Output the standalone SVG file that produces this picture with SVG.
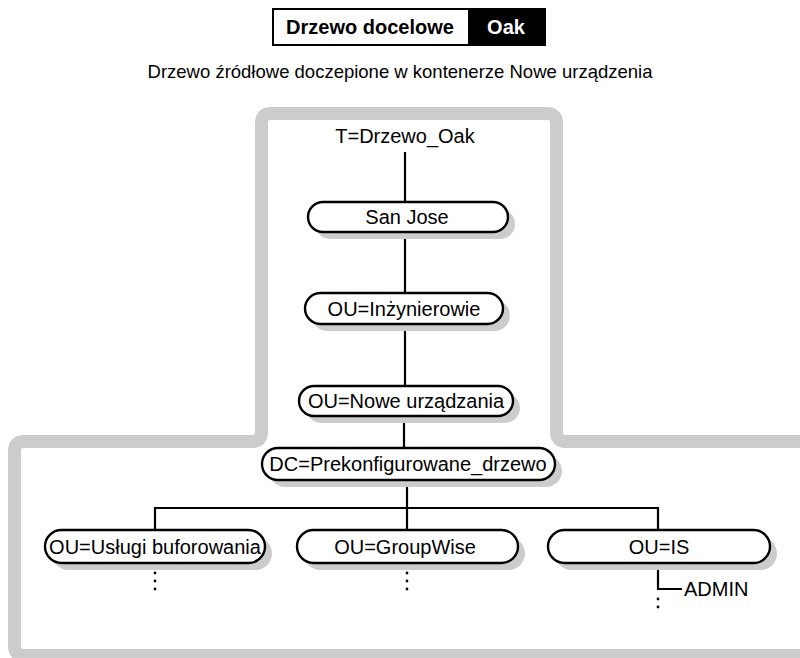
<svg xmlns="http://www.w3.org/2000/svg" width="800" height="658" viewBox="0 0 800 658">
<style>
  .frame { fill: none; stroke: #cccccc; stroke-width: 13; stroke-linejoin: round; }
  .shadow { fill: #cccccc; }
  .node { fill: #ffffff; stroke: #000000; stroke-width: 2.4; }
  .lbl { font-family: "Liberation Sans", Arial, sans-serif; font-size: 20px; fill: #000; text-anchor: middle; }
  .conn { stroke: #000; stroke-width: 2.2; fill: none; }
  .dot { fill: #000; }
  .title { font-family: "Liberation Sans", Arial, sans-serif; font-size: 20px; font-weight: bold; }
  .sub { font-family: "Liberation Sans", Arial, sans-serif; font-size: 18.5px; fill: #000; text-anchor: middle; }
</style>
<rect x="0" y="0" width="800" height="658" fill="#ffffff"/>

<g id="title">
  <rect x="273" y="9" width="272" height="36" fill="#ffffff" stroke="#000" stroke-width="2"/>
  <rect x="468" y="9" width="77" height="36" fill="#000"/>
  <text class="title" x="370" y="34" text-anchor="middle" fill="#000">Drzewo docelowe</text>
  <text class="title" x="506" y="34" text-anchor="middle" fill="#fff">Oak</text>
</g>
<g id="subtitle">
  <text class="sub" x="400" y="78">Drzewo źródłowe doczepione w kontenerze Nowe urządzenia</text>
</g>

<g id="frame">
  <path class="frame" d="M 806 441.5 H 566 Q 556.5 441.5 556.5 432 V 123 Q 556.5 113.5 547 113.5 H 271 Q 261.5 113.5 261.5 123 V 432 Q 261.5 441.5 252 441.5 H 24 Q 14.5 441.5 14.5 451 V 646 Q 14.5 655.5 24 655.5 H 806"/>
</g>

<g id="connectors">
  <line class="conn" x1="405" y1="152" x2="405" y2="202"/>
  <line class="conn" x1="405" y1="232" x2="405" y2="293"/>
  <line class="conn" x1="405" y1="325" x2="405" y2="386"/>
  <line class="conn" x1="404" y1="415" x2="404" y2="448"/>
  <line class="conn" x1="407" y1="480" x2="407" y2="508"/>
  <polyline class="conn" points="155,530 155,508 658,508 658,530"/>
  <line class="conn" x1="407" y1="508" x2="407" y2="530"/>
  <polyline class="conn" points="658,563 658,589 682,589"/>
  <circle class="dot" cx="155" cy="573" r="1.4"/>
  <circle class="dot" cx="155" cy="581" r="1.4"/>
  <circle class="dot" cx="155" cy="589" r="1.4"/>
  <circle class="dot" cx="407" cy="573" r="1.4"/>
  <circle class="dot" cx="407" cy="581" r="1.4"/>
  <circle class="dot" cx="407" cy="589" r="1.4"/>
  <circle class="dot" cx="658" cy="599" r="1.4"/>
  <circle class="dot" cx="658" cy="607" r="1.4"/>
</g>

<g id="root">
  <text class="lbl" x="405" y="143">T=Drzewo_Oak</text>
</g>

<g id="sanjose">
  <rect class="shadow" x="315" y="209" width="200" height="30" rx="15" ry="15"/>
  <rect class="node" x="308" y="202" width="200" height="30" rx="15" ry="15"/>
  <text class="lbl" x="407" y="224">San Jose</text>
</g>

<g id="inzynierowie">
  <rect class="shadow" x="312" y="300" width="198" height="31" rx="15.5" ry="15.5"/>
  <rect class="node" x="305" y="293" width="198" height="31" rx="15.5" ry="15.5"/>
  <text class="lbl" x="404" y="315.5">OU=Inżynierowie</text>
</g>

<g id="nowe">
  <rect class="shadow" x="306" y="393" width="214" height="30" rx="15" ry="15"/>
  <rect class="node" x="299" y="386" width="214" height="30" rx="15" ry="15"/>
  <text class="lbl" x="406" y="408">OU=Nowe urządzania</text>
</g>

<g id="dc">
  <rect class="shadow" x="269" y="455" width="293" height="32" rx="16" ry="16"/>
  <rect class="node" x="262" y="448" width="293" height="32" rx="16" ry="16"/>
  <text class="lbl" x="408" y="471">DC=Prekonfigurowane_drzewo</text>
</g>

<g id="uslugi">
  <rect class="shadow" x="52" y="537" width="220" height="33" rx="16.5" ry="16.5"/>
  <rect class="node" x="45" y="530" width="220" height="33" rx="16.5" ry="16.5"/>
  <text class="lbl" x="155" y="553.5">OU=Usługi buforowania</text>
</g>

<g id="groupwise">
  <rect class="shadow" x="304" y="537" width="221" height="33" rx="16.5" ry="16.5"/>
  <rect class="node" x="297" y="530" width="221" height="33" rx="16.5" ry="16.5"/>
  <text class="lbl" x="405" y="553.5">OU=GroupWise</text>
</g>

<g id="is">
  <rect class="shadow" x="555" y="537" width="222" height="33" rx="16.5" ry="16.5"/>
  <rect class="node" x="548" y="530" width="222" height="33" rx="16.5" ry="16.5"/>
  <text class="lbl" x="659" y="553.5">OU=IS</text>
</g>

<g id="admin">
  <text class="lbl" x="684" y="596" style="text-anchor:start">ADMIN</text>
</g>
</svg>
